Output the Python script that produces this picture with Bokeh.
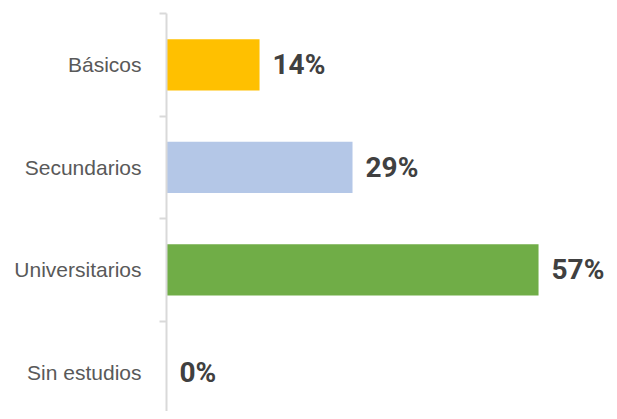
from bokeh.plotting import figure
from bokeh.models import ColumnDataSource, Range1d, FixedTicker
from bokeh.core.properties import value
from bokeh.embed import file_html
from bokeh.resources import INLINE

categories = ["Básicos", "Secundarios", "Universitarios", "Sin estudios"]
values = [14.29, 28.57, 57.14, 0.0]
labels = ["14%", "29%", "57%", "0%"]
colors = ["#FFC000", "#B4C7E7", "#70AD47", "#A5A5A5"]

pos = list(range(len(categories)))
src = ColumnDataSource(dict(y=pos, v=values, lab=labels, c=colors))

W, H = 609, 411
left_b, top_b = 166, 13
px_per_unit = 6.511
band_px = 102.5
x_end = (W - left_b) / px_per_unit
y_end = -0.5 + (H - top_b) / band_px

p = figure(width=W, height=H, output_backend="svg", toolbar_location=None,
           x_range=Range1d(0, x_end), y_range=Range1d(y_end, -0.5),
           x_axis_location=None, min_border_left=left_b, min_border_top=top_b,
           min_border_bottom=0, min_border_right=0)
p.outline_line_color = None
p.xgrid.visible = False
p.ygrid.visible = False
p.background_fill_color = "white"

p.hbar(y="y", left=0, right="v", height=0.5, fill_color="c", line_color=None, source=src)
p.text(x="v", y="y", text="lab", source=src, x_offset=13,
       text_font=value("Roboto"), text_font_style="bold",
       text_font_size="28px", text_color="#404040", text_baseline="middle", text_align="left")

ax = p.yaxis[0]
ax.ticker = FixedTicker(ticks=pos, minor_ticks=[i - 0.5 for i in range(len(categories) + 1)])
ax.major_label_overrides = {i: c for i, c in zip(pos, categories)}
ax.major_tick_out = 0
ax.major_tick_in = 0
ax.minor_tick_out = 7
ax.minor_tick_in = 0
ax.minor_tick_line_color = "#D9D9D9"
ax.minor_tick_line_width = 2
ax.axis_line_color = "#D9D9D9"
ax.axis_line_width = 2
ax.major_label_standoff = 18
ax.major_label_text_font = "Liberation Sans"
ax.major_label_text_font_size = "21px"
ax.major_label_text_color = "#595959"

open("out.html", "w").write(file_html(p, INLINE))
